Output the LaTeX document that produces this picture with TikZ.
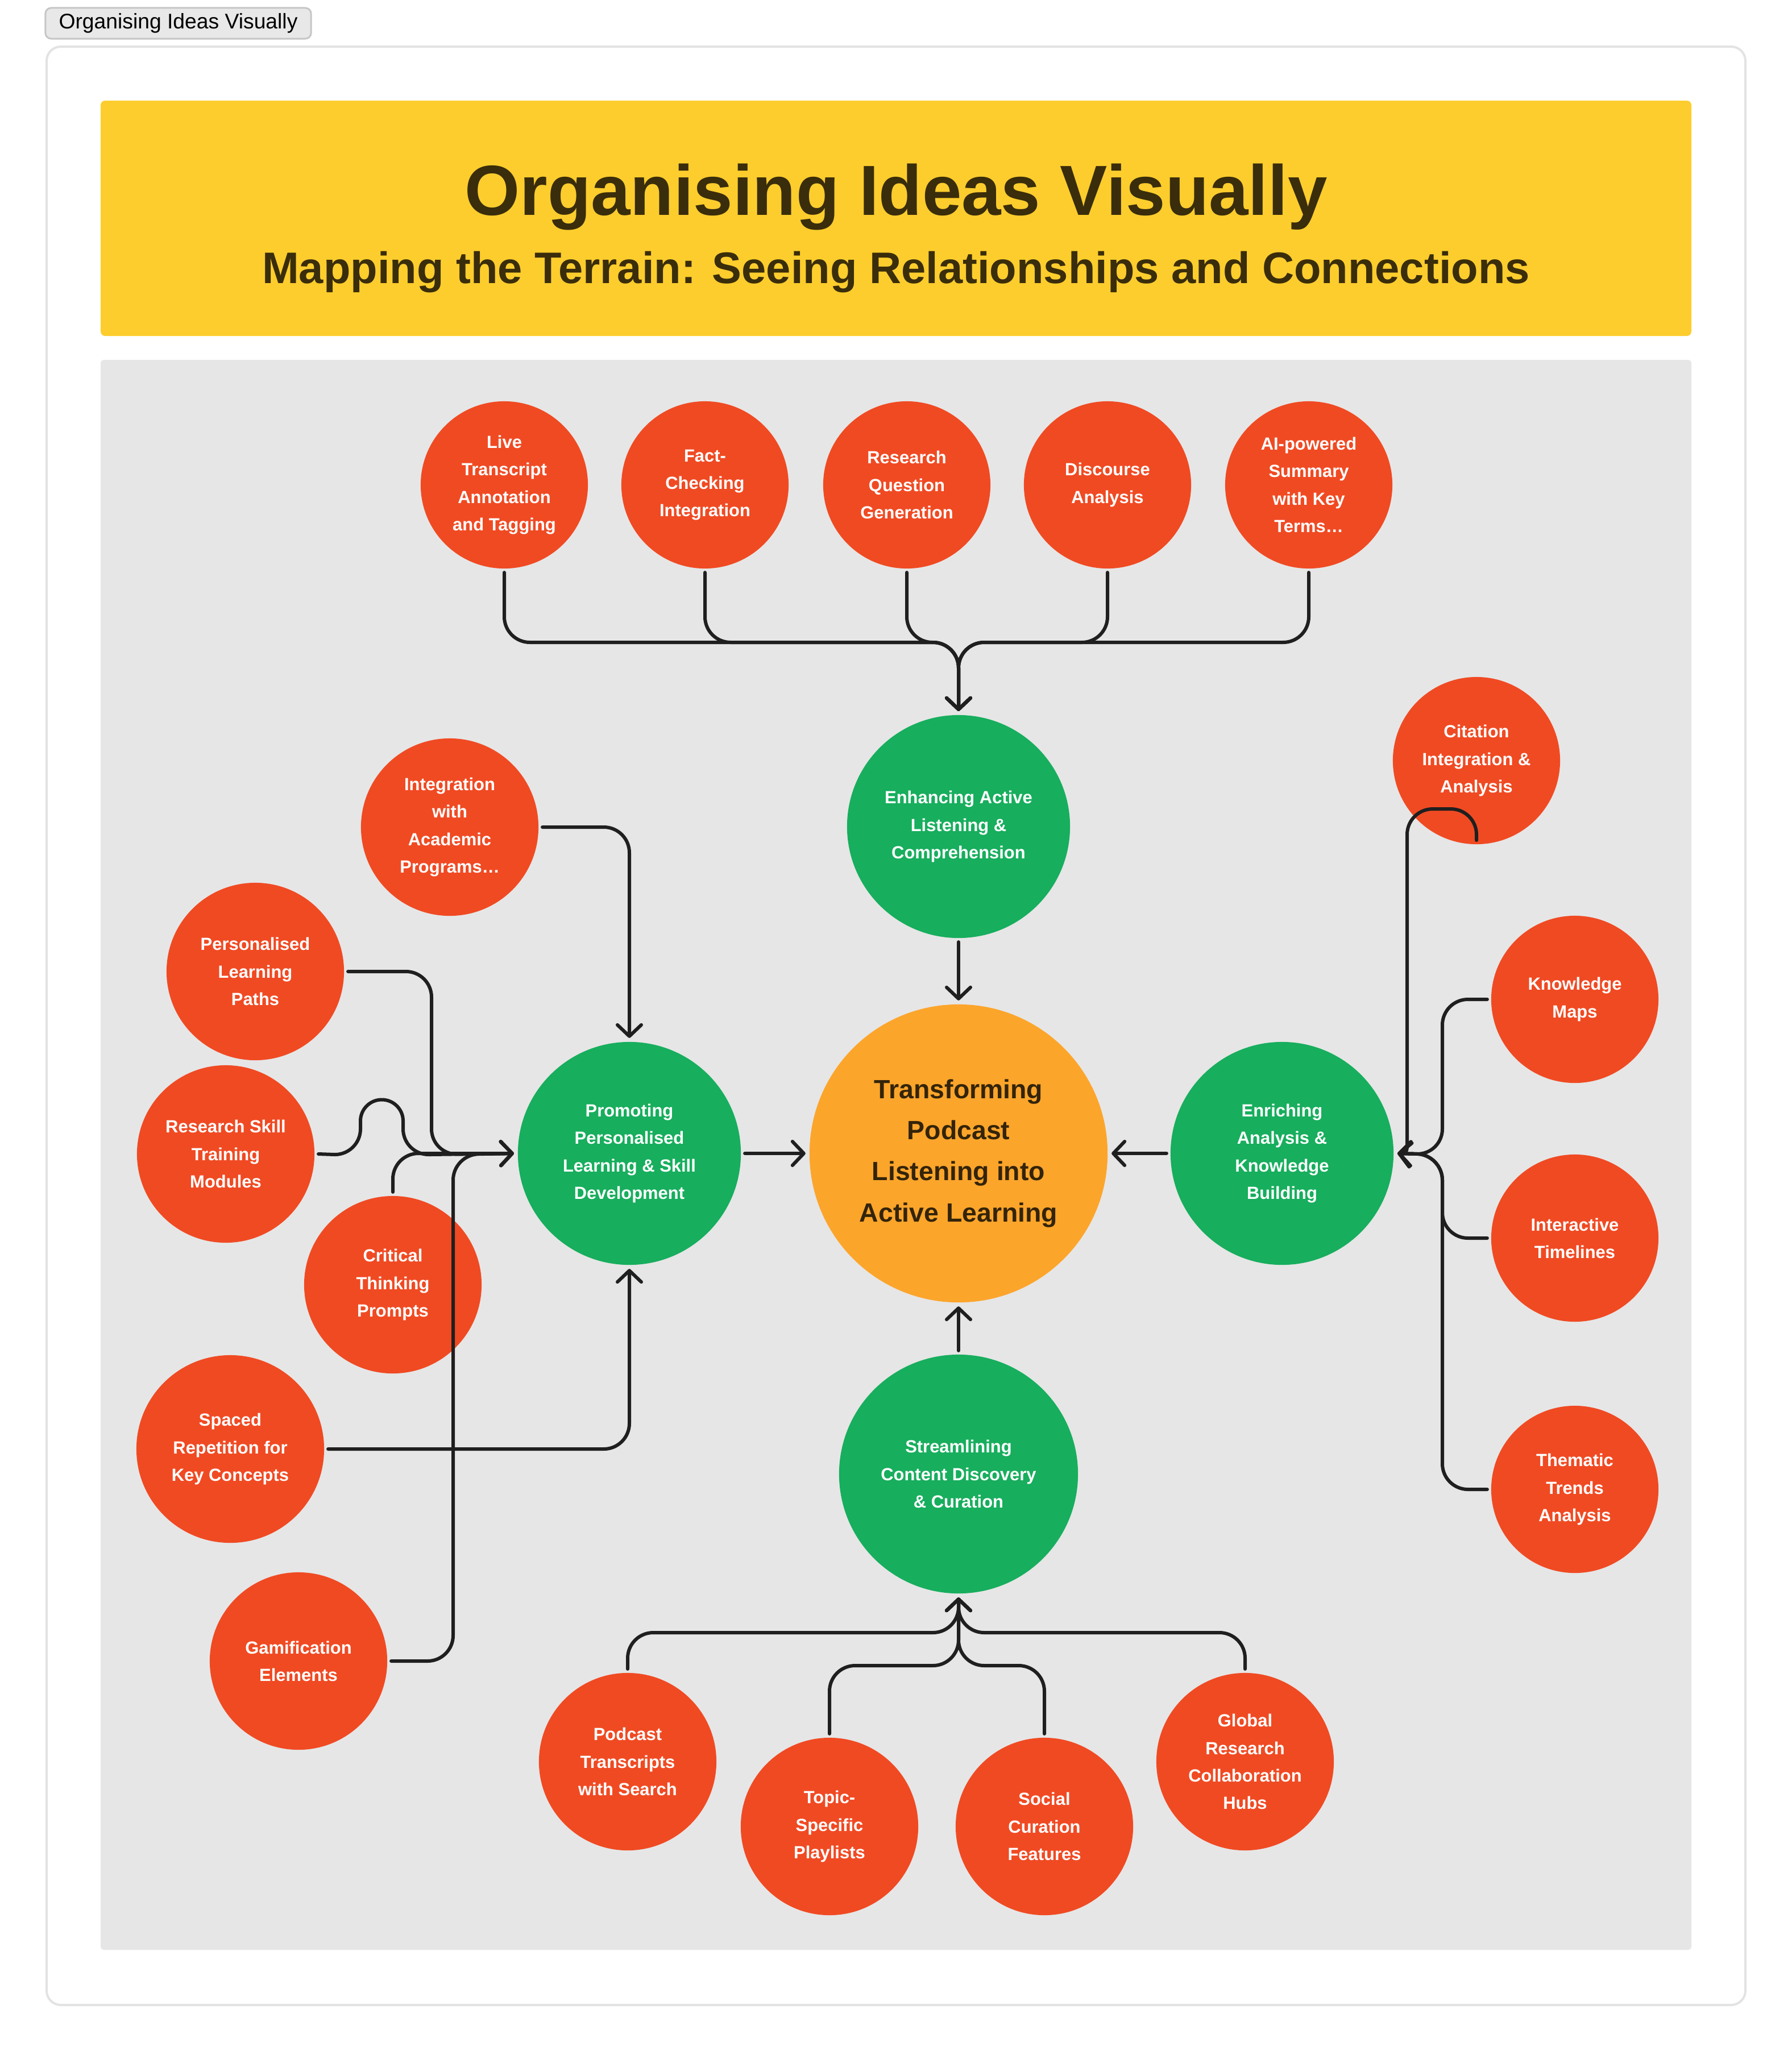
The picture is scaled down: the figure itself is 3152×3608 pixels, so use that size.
\documentclass[tikz,border=0pt]{standalone}
\usepackage{fontspec}
\setmainfont{Liberation Sans}
\usetikzlibrary{arrows.meta}

\definecolor{tabfill}{HTML}{E8E8E8}
\definecolor{tabline}{HTML}{C6C6C6}
\definecolor{cardline}{HTML}{E3E3E3}
\definecolor{headfill}{HTML}{FDCD2D}
\definecolor{headtext}{HTML}{3A2D0B}
\definecolor{panelfill}{HTML}{E6E6E6}
\definecolor{leaffill}{HTML}{F04A23}
\definecolor{hubfill}{HTML}{17AE5D}
\definecolor{corefill}{HTML}{FCA52B}
\definecolor{coretext}{HTML}{33240A}
\definecolor{linkc}{HTML}{1F1F1F}

\begin{document}
\begin{tikzpicture}[x=0.01cm, y=-0.01cm,
  leaf/.style={circle, fill=leaffill, minimum size=2.94cm, inner sep=0pt,
    outer sep=0.07cm, text=white, align=center,
    font=\bfseries\fontsize{8.8}{13.7}\selectfont},
  leafl/.style={leaf, minimum size=3.12cm},
  hub/.style={circle, fill=hubfill, minimum size=3.92cm, inner sep=0pt,
    outer sep=0.07cm, text=white, align=center,
    font=\bfseries\fontsize{8.8}{13.7}\selectfont},
  core/.style={circle, fill=corefill, minimum size=5.24cm, inner sep=0pt,
    outer sep=0.07cm, text=coretext, align=center,
    font=\bfseries\fontsize{13.2}{20.5}\selectfont},
  conn/.style={draw=linkc, line width=0.06cm, rounded corners=0.45cm,
    line cap=round, line join=round},
  arr/.style={conn, -{Straight Barb[length=0.2cm, width=0.42cm, round]}}
]
\useasboundingbox (0,0) rectangle (3152,3608);
\fill[white] (0,0) rectangle (3152,3608);

% window tab and card
\node[draw=tabline, fill=tabfill, rounded corners=0.1cm, line width=0.03cm,
  minimum width=4.67cm, minimum height=0.54cm, inner sep=0pt,
  font=\fontsize{10.6}{12}\selectfont] (tab) at (313.5,41) {Organising Ideas Visually};
\draw[draw=cardline, line width=0.04cm, fill=white, rounded corners=0.25cm]
  (82,82) rectangle (3070,3527);

% header band
\fill[headfill, rounded corners=0.08cm] (177,177) rectangle (2975,591);
\node[anchor=base, text=headtext, font=\bfseries\fontsize{35.5}{40}\selectfont]
  (title) at (1576,378) {Organising Ideas Visually};
\node[anchor=base, text=headtext, font=\bfseries\fontsize{22.1}{26}\selectfont]
  (subtitle) at (1576,498) {Mapping the Terrain: Seeing Relationships and Connections};

% diagram panel
\fill[panelfill, rounded corners=0.06cm] (177,633) rectangle (2975,3430);

% central idea and hubs
\node[core] (core) at (1686,2029) {Transforming\\Podcast\\Listening into\\Active Learning};
\node[hub] (enh) at (1686,1454) {Enhancing Active\\Listening \&\\Comprehension};
\node[hub] (prom) at (1107,2029) {Promoting\\Personalised\\Learning \& Skill\\Development};
\node[hub] (enr) at (2255,2029) {Enriching\\Analysis \&\\Knowledge\\Building};
\node[hub, minimum size=4.2cm] (str) at (1686,2593) {Streamlining\\Content Discovery\\\& Curation};

% top row
\node[leaf] (live) at (887,853) {Live\\Transcript\\Annotation\\and Tagging};
\node[leaf] (fact) at (1240,853) {Fact-\\Checking\\Integration};
\node[leaf] (rq) at (1595,853) {Research\\Question\\Generation};
\node[leaf] (disc) at (1948,853) {Discourse\\Analysis};
\node[leaf] (ai) at (2302,853) {AI-powered\\Summary\\with Key\\Terms…};

% left group
\node[leafl] (integ) at (791,1455) {Integration\\with\\Academic\\Programs…};
\node[leafl] (pers) at (449,1709) {Personalised\\Learning\\Paths};
\node[leafl] (rsk) at (397,2030) {Research Skill\\Training\\Modules};
\node[leafl] (crit) at (691,2260) {Critical\\Thinking\\Prompts};
\node[leafl, minimum size=3.3cm] (spc) at (405,2549) {Spaced\\Repetition for\\Key Concepts};
\node[leafl] (gam) at (525,2922) {Gamification\\Elements};

% right group
\node[leaf] (cit) at (2597,1338) {Citation\\Integration \&\\Analysis};
\node[leaf] (km) at (2770,1758) {Knowledge\\Maps};
\node[leaf] (itl) at (2770,2178) {Interactive\\Timelines};
\node[leaf] (thm) at (2770,2620) {Thematic\\Trends\\Analysis};

% bottom group
\node[leafl] (pod) at (1104,3099) {Podcast\\Transcripts\\with Search};
\node[leafl] (tsp) at (1459,3213) {Topic-\\Specific\\Playlists};
\node[leafl] (soc) at (1837,3213) {Social\\Curation\\Features};
\node[leafl] (glob) at (2190,3099) {Global\\Research\\Collaboration\\Hubs};

% junction points
\coordinate (topbus) at (1686,1130);
\coordinate (lj1) at (759,2031);
\coordinate (lj2) at (797,2031);
\coordinate (rj) at (2537,2031);
\coordinate (cj) at (2475,2031);
\coordinate (bb1) at (1686,2872);
\coordinate (bb2) at (1686,2930);

% hubs into the centre
\draw[arr] (enh) -- (core);
\draw[arr] (prom) -- (core);
\draw[arr] (enr) -- (core);
\draw[arr] (str) -- (core);

% top row into Enhancing
\foreach \n in {live,fact,rq,disc,ai}
  \draw[arr] (\n.south) |- (topbus) -- (enh.north);

% left group into Promoting
\draw[arr] (integ.east) -| (prom.north);
\draw[arr] (pers.east) -| (lj1) -- (prom.west);
% line hop over the Critical Thinking link
\draw[arr, sharp corners] (rsk.east) -- (589,2031)
  arc[start angle=270, end angle=360, radius=0.45cm] -- (634,1972)
  arc[start angle=180, end angle=0, radius=0.375cm] -- (709,1986)
  arc[start angle=180, end angle=270, radius=0.45cm] -- (prom.west);
\draw[arr] (crit.north) |- (prom.west);
\draw[arr] (gam.east) -| (lj2) -- (prom.west);
\draw[arr] (spc.east) -| (prom.south);

% right group into Enriching
\draw[arr] ([yshift=0.14cm]cit.south) -- ([yshift=0.69cm]cit.south) -| (2475,1700)
  [rounded corners=0.12cm] -- (cj) -- (enr.east);
\foreach \n in {km,itl,thm}
  \draw[arr] (\n.west) -| (rj) -- (enr.east);

% bottom group into Streamlining
\draw[arr] (pod.north) |- (bb1) -- (str.south);
\draw[arr] (glob.north) |- (bb1) -- (str.south);
\draw[arr] (tsp.north) |- (bb2) -- (str.south);
\draw[arr] (soc.north) |- (bb2) -- (str.south);
\end{tikzpicture}
\end{document}
